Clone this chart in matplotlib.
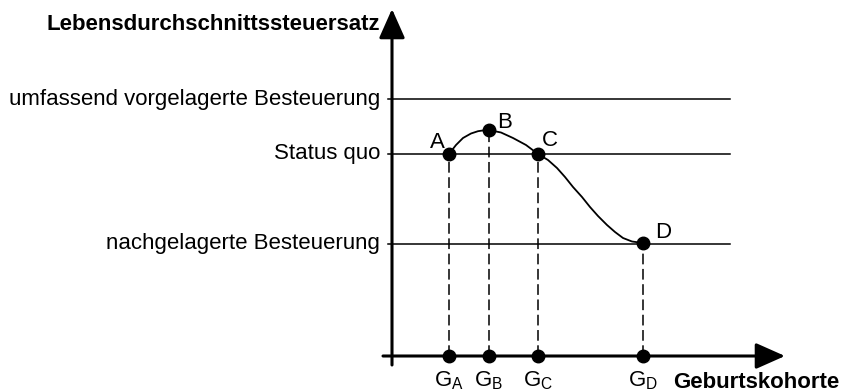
import numpy as np
import matplotlib
matplotlib.use("Agg")
import matplotlib.pyplot as plt

plt.rcParams['font.family'] = ['Liberation Sans', 'DejaVu Sans']
plt.rcParams['mathtext.fontset'] = 'custom'
plt.rcParams['mathtext.rm'] = 'Liberation Sans'
plt.rcParams['mathtext.it'] = 'Liberation Sans'

# tax regimes (horizontal reference levels)
levels = [2.57, 2.02, 1.12]
level_names = ['umfassend vorgelagerte Besteuerung', 'Status quo', 'nachgelagerte Besteuerung']

# marked points A-D
point_names = ['A', 'B', 'C', 'D']
point_x = [0.57, 0.97, 1.46, 2.51]
point_y = [2.02, 2.26, 2.02, 1.13]
cohort_labels = ['$\\mathrm{G_A}$', '$\\mathrm{G_B}$', '$\\mathrm{G_C}$', '$\\mathrm{G_D}$']

# curve
curve_x = [0.57, 0.64, 0.71, 0.79, 0.86, 0.92, 0.97, 1.09, 1.21, 1.34, 1.46, 1.56, 1.65, 1.73, 1.81,
           1.90, 1.98, 2.06, 2.15, 2.23, 2.31, 2.40, 2.51]
curve_y = [2.02, 2.11, 2.18, 2.225, 2.248, 2.257, 2.26, 2.235, 2.18, 2.11, 2.02, 1.96, 1.88, 1.79, 1.69,
           1.59, 1.49, 1.40, 1.31, 1.24, 1.18, 1.145, 1.13]

fig = plt.figure(figsize=(8.43, 3.92), dpi=100)
ax = fig.add_axes([0, 0, 1, 1])
ax.set_xlim(-3.92, 4.51)
ax.set_ylim(-0.36, 3.56)
ax.axis('off')

# axes with arrows
ax.annotate('', xy=(0, 3.47), xytext=(0, -0.09),
            arrowprops=dict(arrowstyle='-|>,head_length=0.9,head_width=0.4', mutation_scale=20,
                            lw=2.2, color='black', shrinkA=0, shrinkB=0))
ax.annotate('', xy=(3.93, 0), xytext=(-0.09, 0),
            arrowprops=dict(arrowstyle='-|>,head_length=0.9,head_width=0.4', mutation_scale=20,
                            lw=2.2, color='black', shrinkA=0, shrinkB=0))

for lv, name in zip(levels, level_names):
    ax.plot([-0.04, 3.38], [lv, lv], color='black', lw=1.1)
    ax.text(-0.12, lv, name, ha='right', va='center', fontsize=16)

ax.plot(curve_x, curve_y, color='black', lw=1.3)

for px, py, name, lab in zip(point_x, point_y, point_names, cohort_labels):
    ax.plot([px, px], [0, py], color='black', lw=1.1, dashes=(7, 3))
    ax.plot(px, py, 'o', color='black', ms=9)
    ax.plot(px, 0, 'o', color='black', ms=9)
    ax.text(px, -0.305, lab, ha='center', va='baseline', fontsize=16)

label_pos = [(0.45, 2.13), (1.13, 2.33), (1.58, 2.15), (2.71, 1.23)]
for (lx, ly), name in zip(label_pos, point_names):
    ax.text(lx, ly, name, ha='center', va='center', fontsize=16)

ax.text(-0.12, 3.31, 'Lebensdurchschnittssteuersatz', ha='right', va='center',
        fontsize=16, fontweight='bold')
ax.text(2.81, -0.27, 'Geburtskohorte', ha='left', va='center', fontsize=16, fontweight='bold')

fig.savefig('out.png', dpi=100)
